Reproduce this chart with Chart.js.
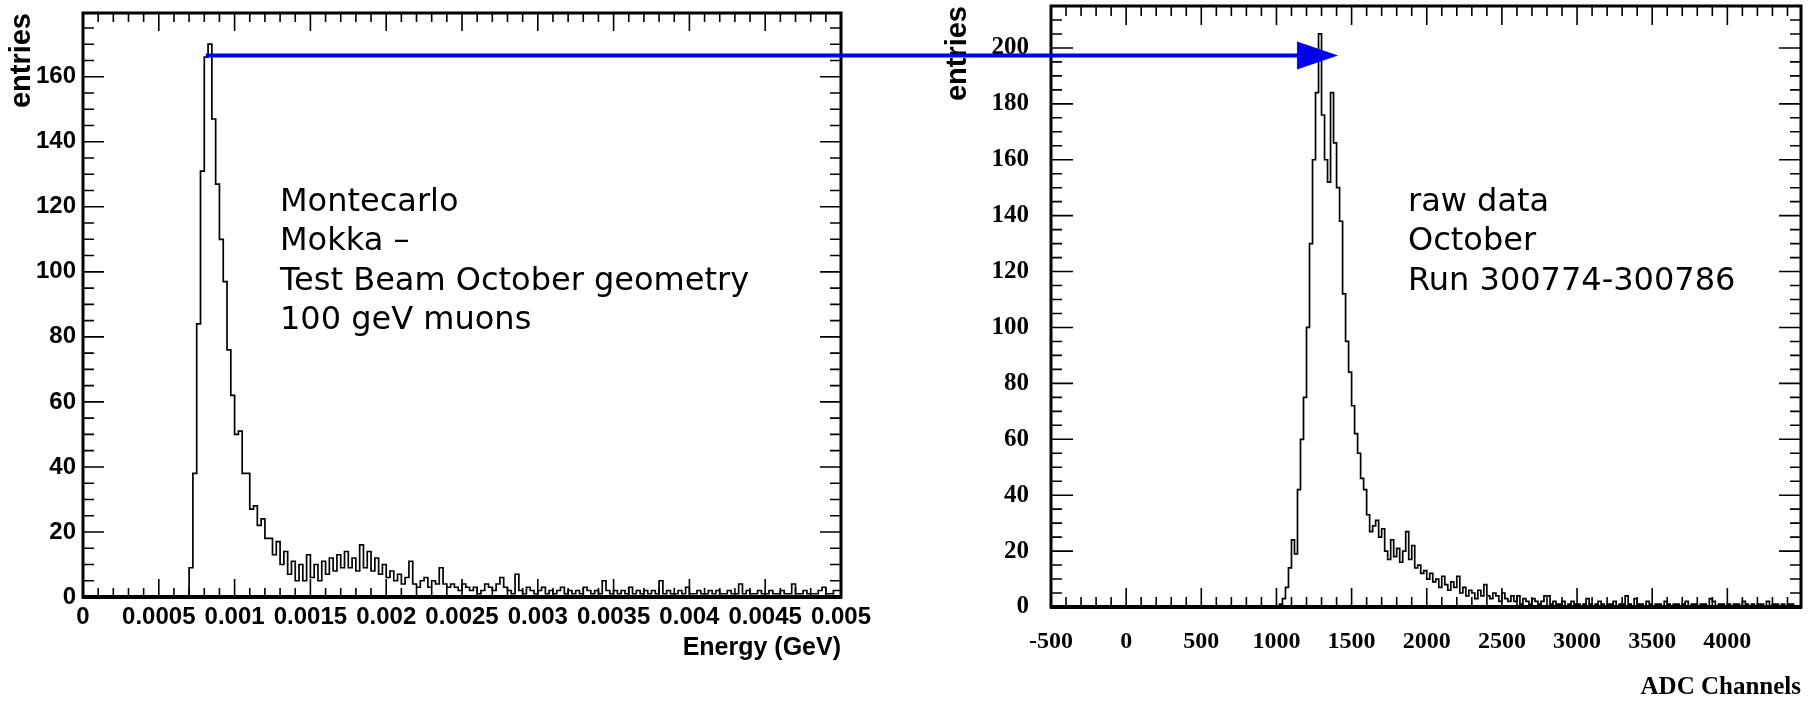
<!DOCTYPE html>
<html>
<head>
<meta charset="utf-8">
<script src="https://cdn.jsdelivr.net/npm/chart.js@4.4.1/dist/chart.umd.min.js"></script>
<style>
html,body{margin:0;padding:0;background:#fff;width:1813px;height:704px;overflow:hidden}
body{position:relative}
#c1{position:absolute;left:0;top:0}
#c2{position:absolute;left:900px;top:0}
#ov{position:absolute;left:0;top:0;pointer-events:none}
.note{position:absolute;font-family:"DejaVu Sans",sans-serif;font-size:32px;line-height:39.3px;color:#000;white-space:pre}
</style>
</head>
<body>
<canvas id="c1" width="900" height="704"></canvas>
<canvas id="c2" width="913" height="704"></canvas>
<canvas id="ov" width="1813" height="704"></canvas>
<div class="note" style="left:280px;top:181px">Montecarlo
Mokka –
Test Beam October geometry
100 geV muons</div>
<div class="note" style="left:1408px;top:181px">raw data
October
Run 300774-300786</div>
<script>
// ---------- DATA ----------
// Left: Montecarlo energy histogram, bins of 0.000025 GeV starting at 0.0007 GeV
const mcBinStart = 0.0007;
const mcBinWidth = 0.000025;
const mcCounts = [
  0, 9, 38, 84, 131, 166, 170, 147, 127, 110,
  97, 76, 62, 50, 51, 38, 38, 27, 28, 22,
  24, 18, 18, 13, 17, 10, 14, 7, 11, 5,
  10, 5, 13, 6, 10, 5, 11, 7, 12, 8,
  13, 9, 14, 9, 12, 8, 16, 9, 14, 8,
  12, 7, 10, 6, 8, 5, 7, 4, 6, 11,
  4, 3, 5, 6, 3, 5, 4, 9, 4, 3,
  4, 3, 2, 4, 3, 2, 3, 1, 2, 4,
  3, 2, 4, 6, 3, 2, 1, 7, 2, 1,
  3, 2, 1, 2, 3, 1, 2, 1, 2, 3,
  1, 2, 1, 2, 1, 3, 2, 1, 2, 1,
  5, 2, 1, 2, 1, 2, 1, 3, 1, 2,
  1, 2, 1, 2, 1, 5, 1, 2, 1, 1,
  2, 1, 3, 1, 1, 2, 1, 1, 2, 1,
  2, 1, 1, 2, 1, 1, 4, 1, 2, 1,
  1, 2, 1, 1, 2, 1, 1, 2, 1, 1,
  4, 1, 1, 2, 1, 1, 1, 2, 3, 1,
  1, 2
];
const mcXTicks = [0, 0.0005, 0.001, 0.0015, 0.002, 0.0025, 0.003, 0.0035, 0.004, 0.0045, 0.005];
const mcXTickLabels = ["0", "0.0005", "0.001", "0.0015", "0.002", "0.0025", "0.003", "0.0035", "0.004", "0.0045", "0.005"];
const mcYTicks = [0, 20, 40, 60, 80, 100, 120, 140, 160];
const mcYTickLabels = ["0", "20", "40", "60", "80", "100", "120", "140", "160"];

// Right: raw data ADC histogram, bins of 20 ADC channels starting at 1000
const rawBinStart = 1000;
const rawBinWidth = 20;
const rawCounts = [
  0, 0, 1, 3, 7, 14, 24, 19, 42, 60,
  75, 100, 130, 160, 184, 205, 176, 160, 152, 184,
  166, 150, 138, 112, 95, 84, 72, 62, 55, 46,
  42, 33, 27, 29, 31, 25, 28, 20, 17, 24,
  18, 21, 16, 20, 27, 17, 22, 14, 15, 12,
  13, 10, 12, 9, 10, 7, 11, 8, 6, 9,
  7, 11, 5, 7, 4, 6, 5, 3, 6, 4,
  8, 4, 3, 5, 4, 2, 5, 3, 2, 4,
  2, 4, 1, 3, 2, 1, 3, 2, 1, 2,
  4, 4, 1, 2, 1, 1, 2, 0, 1, 2,
  1, 1, 0, 1, 3, 1, 0, 1, 2, 1,
  0, 1, 1, 2, 0, 1, 1, 4, 1, 0,
  3, 1, 1, 0, 2, 1, 0, 1, 1, 0,
  2, 1, 0, 1, 1, 0, 1, 2, 0, 1,
  1, 0, 1, 1, 0, 3, 2, 0, 1, 1,
  0, 1, 0, 1, 1, 0, 2, 1, 0, 1,
  0, 1, 1, 0, 2, 0, 1, 1, 0, 1,
  0, 1, 1, 0
];
const rawXTicks = [-500, 0, 500, 1000, 1500, 2000, 2500, 3000, 3500, 4000];
const rawXTickLabels = ["-500", "0", "500", "1000", "1500", "2000", "2500", "3000", "3500", "4000"];
const rawYTicks = [0, 20, 40, 60, 80, 100, 120, 140, 160, 180, 200];
const rawYTickLabels = ["0", "20", "40", "60", "80", "100", "120", "140", "160", "180", "200"];

// Arrow annotation (from MC peak level to raw-data peak)
const arrowFrom = { x: 0.00081, y: 166.5 };
const arrowToX = 1410;

// ---------- helpers ----------
function toSteps(start, width, counts) {
  const pts = counts.map((v, i) => ({ x: start + i * width, y: v }));
  pts.push({ x: start + counts.length * width, y: counts[counts.length - 1] });
  return pts;
}

function framePlugin(cfg) {
  return {
    id: 'frameTicks',
    afterDatasetsDraw(chart) {
      const { ctx, chartArea: a, scales: { x, y } } = chart;
      ctx.save();
      ctx.strokeStyle = '#000';
      ctx.lineWidth = 1.6;
      ctx.beginPath();
      const nx = Math.round((cfg.xEnd - cfg.xFirst) / cfg.xMinor);
      for (let k = 0; k <= nx; k++) {
        const v = cfg.xFirst + k * cfg.xMinor;
        const px = x.getPixelForValue(v);
        if (px < a.left - 1 || px > a.right + 1) continue;
        const r = v / cfg.xMajor;
        const major = Math.abs(r - Math.round(r)) < 1e-6;
        const len = major ? cfg.xMajorLen : cfg.xMinorLen;
        ctx.moveTo(px, a.bottom); ctx.lineTo(px, a.bottom - len);
        ctx.moveTo(px, a.top); ctx.lineTo(px, a.top + len);
      }
      const ny = Math.round((cfg.yEnd - cfg.yFirst) / cfg.yMinor);
      for (let k = 0; k <= ny; k++) {
        const v = cfg.yFirst + k * cfg.yMinor;
        const py = y.getPixelForValue(v);
        if (py < a.top - 1 || py > a.bottom + 1) continue;
        const r = v / cfg.yMajor;
        const major = Math.abs(r - Math.round(r)) < 1e-6;
        const len = major ? cfg.yMajorLen : cfg.yMinorLen;
        ctx.moveTo(a.left, py); ctx.lineTo(a.left + len, py);
        ctx.moveTo(a.right, py); ctx.lineTo(a.right - len, py);
      }
      ctx.stroke();
      ctx.lineWidth = 3;
      ctx.strokeRect(a.left, a.top, a.right - a.left, a.bottom - a.top);
      ctx.lineWidth = 4;
      ctx.beginPath();
      ctx.moveTo(a.left - 1, a.bottom); ctx.lineTo(a.right + 1, a.bottom);
      ctx.stroke();
      ctx.restore();
    }
  };
}

function noPadH(w) { return s => { s.height = w; s.paddingLeft = 0; s.paddingRight = 0; s.paddingTop = 0; s.paddingBottom = 0; }; }
function noPadV(w) { return s => { s.width = w; s.paddingLeft = 0; s.paddingRight = 0; s.paddingTop = 0; s.paddingBottom = 0; }; }

const sansBold = { family: 'Liberation Sans', weight: 'bold', size: 24 };
const sansTitle = { family: 'Liberation Sans', weight: 'bold', size: 25 };
const entriesFont = { family: 'Liberation Sans', weight: 'bold', size: 29 };
const serifBold = { family: 'Liberation Serif', weight: 'bold', size: 24 };
const serifY = { family: 'Liberation Serif', weight: 'bold', size: 25 };
const serifTitle = { family: 'Liberation Serif', weight: 'bold', size: 25 };

// ---------- Left chart ----------
const leftChart = new Chart(document.getElementById('c1'), {
  type: 'line',
  data: {
    datasets: [{
      data: toSteps(mcBinStart, mcBinWidth, mcCounts),
      stepped: 'after',
      borderColor: '#000',
      borderWidth: 1.7,
      pointRadius: 0,
      fill: false
    }]
  },
  options: {
    responsive: false,
    animation: false,
    devicePixelRatio: 1,
    layout: { padding: { left: 0, top: 13, right: 59, bottom: 0 } },
    plugins: { legend: { display: false }, tooltip: { enabled: false } },
    scales: {
      x: {
        type: 'linear', min: 0, max: 0.005,
        grid: { display: false, drawTicks: false },
        border: { display: false },
        afterBuildTicks(s) { s.ticks = mcXTicks.map(v => ({ value: v })); },
        afterFit: noPadH(107),
        ticks: {
          autoSkip: false, maxRotation: 0, minRotation: 0, padding: 6, color: '#000',
          font: sansBold,
          callback: (v, i) => mcXTickLabels[i]
        },
        title: {
          display: true, text: 'Energy (GeV)', align: 'end', color: '#000',
          font: sansTitle, padding: { top: 0, bottom: 41 }
        }
      },
      y: {
        type: 'linear', min: 0, max: 179.6,
        grid: { display: false, drawTicks: false },
        border: { display: false },
        afterBuildTicks(s) { s.ticks = mcYTicks.map(v => ({ value: v })); },
        afterFit: noPadV(83),
        ticks: {
          autoSkip: false, padding: 7, color: '#000',
          font: sansBold,
          callback: (v, i) => mcYTickLabels[i]
        },
        title: {
          display: true, text: 'entries', align: 'end', color: '#000',
          font: entriesFont, padding: { top: 5, bottom: 0 }
        }
      }
    }
  },
  plugins: [framePlugin({
    xFirst: 0, xEnd: 0.005, xMinor: 0.0001, xMajor: 0.0005, xMajorLen: 18, xMinorLen: 9,
    yFirst: 0, yEnd: 175, yMinor: 5, yMajor: 20, yMajorLen: 21, yMinorLen: 11
  })]
});

// ---------- Right chart ----------
const rightChart = new Chart(document.getElementById('c2'), {
  type: 'line',
  data: {
    datasets: [{
      data: toSteps(rawBinStart, rawBinWidth, rawCounts),
      stepped: 'after',
      borderColor: '#000',
      borderWidth: 1.7,
      pointRadius: 0,
      fill: false
    }]
  },
  options: {
    responsive: false,
    animation: false,
    devicePixelRatio: 1,
    layout: { padding: { left: 0, top: 6, right: 12, bottom: 0 } },
    plugins: { legend: { display: false }, tooltip: { enabled: false } },
    scales: {
      x: {
        type: 'linear', min: -500, max: 4490,
        grid: { display: false, drawTicks: false },
        border: { display: false },
        afterBuildTicks(s) { s.ticks = rawXTicks.map(v => ({ value: v })); },
        afterFit: noPadH(97),
        ticks: {
          autoSkip: false, maxRotation: 0, minRotation: 0, padding: 20, color: '#000',
          font: serifBold,
          callback: (v, i) => rawXTickLabels[i]
        },
        title: {
          display: true, text: 'ADC Channels', align: 'end', color: '#000',
          font: serifTitle, padding: { top: 0, bottom: 1 }
        }
      },
      y: {
        type: 'linear', min: 0, max: 215,
        grid: { display: false, drawTicks: false },
        border: { display: false },
        afterBuildTicks(s) { s.ticks = rawYTicks.map(v => ({ value: v })); },
        afterFit: noPadV(151),
        ticks: {
          autoSkip: false, padding: 22, color: '#000',
          font: serifY,
          callback: (v, i) => rawYTickLabels[i]
        },
        title: {
          display: true, text: 'entries', align: 'end', color: '#000',
          font: entriesFont, padding: { top: 41, bottom: 0 }
        }
      }
    }
  },
  plugins: [framePlugin({
    xFirst: -500, xEnd: 4400, xMinor: 100, xMajor: 500, xMajorLen: 19, xMinorLen: 10,
    yFirst: 0, yEnd: 215, yMinor: 5, yMajor: 20, yMajorLen: 22, yMinorLen: 11
  })]
});

// ---------- Arrow overlay ----------
(function drawArrow() {
  const ov = document.getElementById('ov');
  const ctx = ov.getContext('2d');
  const rightOffset = 900;
  const x0 = leftChart.scales.x.getPixelForValue(arrowFrom.x);
  const y0 = leftChart.scales.y.getPixelForValue(arrowFrom.y);
  const xTip = rightOffset + rightChart.scales.x.getPixelForValue(arrowToX);
  const headLen = 41, headHalf = 14;
  ctx.fillStyle = '#0000ee';
  ctx.strokeStyle = '#0000ee';
  ctx.lineWidth = 4;
  ctx.beginPath();
  ctx.moveTo(x0, y0);
  ctx.lineTo(xTip - headLen + 1, y0);
  ctx.stroke();
  ctx.beginPath();
  ctx.moveTo(xTip, y0);
  ctx.lineTo(xTip - headLen, y0 - headHalf);
  ctx.lineTo(xTip - headLen, y0 + headHalf);
  ctx.closePath();
  ctx.fill();
})();
</script>
</body>
</html>
